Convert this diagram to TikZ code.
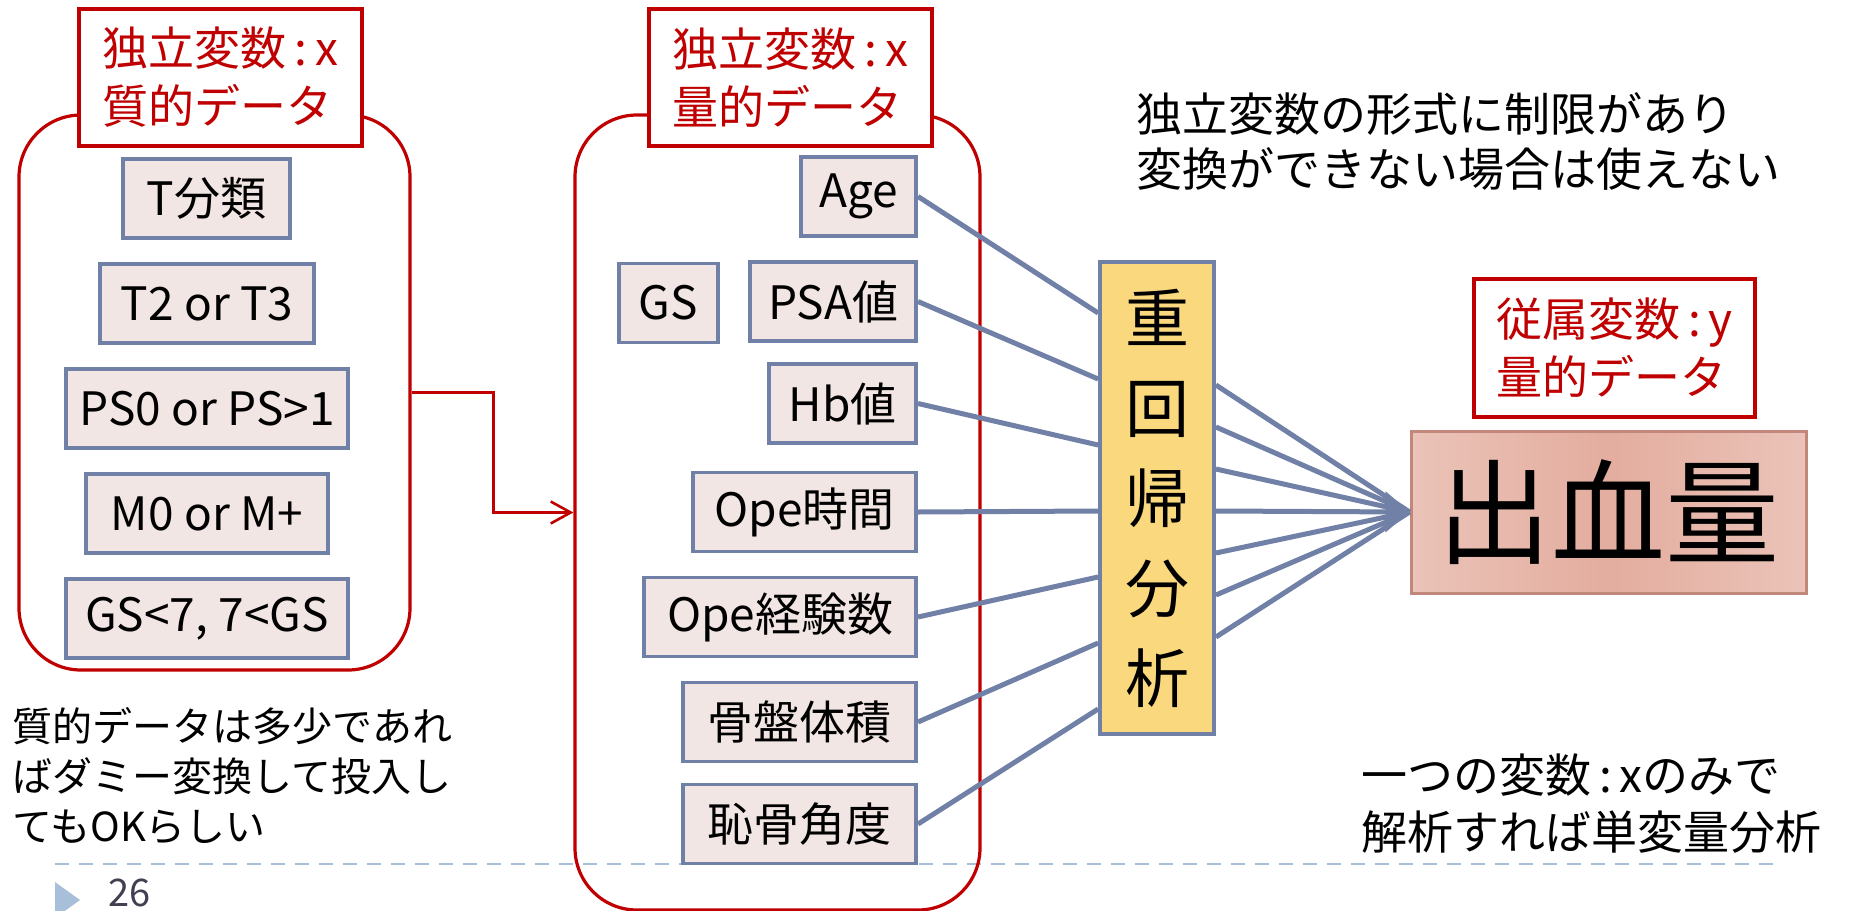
\documentclass[tikz,border=0pt]{standalone}
\usepackage{fontspec}
\setmainfont{Noto Sans CJK JP}
\usetikzlibrary{arrows.meta,calc}
\definecolor{rd}{HTML}{C00000}
\definecolor{bx}{HTML}{F2E6E4}
\definecolor{bb}{HTML}{7180A6}
\definecolor{yl}{HTML}{FAD97E}
\definecolor{dl}{HTML}{A7BFD8}
\definecolor{ob}{HTML}{C0877A}
\definecolor{oa}{HTML}{EBC3B8}
\definecolor{oc}{HTML}{E3AD9F}
\definecolor{pg}{HTML}{404050}
\begin{document}
\begin{tikzpicture}[x=0.5pt,y=-0.5pt,
 grp/.style={draw=rd,line width=1.6pt,rounded corners=31pt,inner sep=0pt},
 ttl/.style={draw=rd,line width=1.6pt,fill=white,text=rd,font=\fontsize{23}{29}\selectfont,align=left,minimum width=141.5pt,minimum height=68.5pt,inner sep=0pt},
 vb/.style={draw=bb,line width=1.9pt,fill=bx,font=\fontsize{23}{28}\selectfont,minimum height=39.5pt,inner sep=0pt},
 link/.style={draw=bb,line width=2.5pt},
 note/.style={font=\fontsize{23}{27.5}\selectfont,align=left,inner sep=0pt,anchor=north west}
]
\useasboundingbox (0,0) rectangle (1852,910);
\fill[white] (0,0) rectangle (1852,910);
% footer
\draw[dl,line width=1pt,dash pattern=on 7pt off 5pt] (55,864) -- (1783,864);
\fill[dl] (55,882) -- (80,900) -- (55,918) -- cycle;
\node[anchor=base west,text=pg,font=\fontsize{19}{19}\selectfont,inner sep=0pt] (pg) at (108,906) {26};
% groups
\node[grp,minimum width=195.5pt,minimum height=277.5pt] (g1) at (214.5,392.5) {};
\node[grp,minimum width=202.5pt,minimum height=397.5pt] (g2) at (777.5,512.5) {};
\draw[rd,line width=1.3pt,-{Straight Barb[length=10pt,width=11pt]}] (g1.east) -- ++(82,0) |- (g2.west);
% titles
\node[ttl] (t1) at (220.5,77.5) {独立変数\,:\,x\\質的データ};
\node[ttl] (t2) at (790.5,77.5) {独立変数\,:\,x\\量的データ};
\node[ttl,minimum width=140.5pt,minimum height=69pt] (t3) at (1614.5,348) {従属変数\,:\,y\\量的データ};
% left boxes
\node[vb,minimum width=83.5pt] (a1) at (206.5,198.5) {T分類};
\node[vb,minimum width=107pt] (a2) at (207,303.5) {T2 or T3};
\node[vb,minimum width=141pt] (a3) at (207,408.5) {PS0 or PS>1};
\node[vb,minimum width=121pt] (a4) at (207,513.5) {M0 or M+};
\node[vb,minimum width=141pt] (a5) at (207,618.5) {GS<7, 7<GS};
% middle boxes
\node[vb,anchor=east,minimum width=57.5pt] (b1) at (918,196.5) {Age};
\node[vb,minimum width=49.5pt] (gs) at (668.5,303) {GS};
\node[vb,anchor=east,minimum width=83pt] (b2) at (918,301.5) {PSA値};
\node[vb,anchor=east,minimum width=73.5pt] (b3) at (918,403.5) {Hb値};
\node[vb,anchor=east,minimum width=111.5pt] (b4) at (918,512) {Ope時間};
\node[vb,anchor=east,minimum width=136pt] (b5) at (918,617) {Ope経験数};
\node[vb,anchor=east,minimum width=116.5pt] (b6) at (918,722) {骨盤体積};
\node[vb,anchor=east,minimum width=116.5pt] (b7) at (918,824) {恥骨角度};
% regression
\node[draw=bb,line width=1.9pt,fill=yl,minimum width=57pt,minimum height=236pt,inner sep=0pt,font=\fontsize{32}{45}\selectfont,align=center] (reg) at (1157,498) {重\\回\\帰\\分\\析};
% outcome
\node[draw=ob,line width=1.5pt,left color=oa,right color=oa,middle color=oc,minimum width=197.5pt,minimum height=81pt,inner sep=0pt,font=\fontsize{57}{57}\selectfont] (out) at (1608.5,512) {出血量};
% links
\foreach \n/\yy in {b1/313,b2/379,b3/445,b4/511,b5/577,b6/643,b7/709}
  \draw[link] (\n.east) -- ($(reg.west)+(0,\yy-498)$);
\foreach \yy in {385,427,469,553,595,637}
  \draw[link] ($(reg.east)+(0,\yy-498)$) -- (out.west);
\draw[link,-{Triangle[length=12pt,width=20pt]}] ($(reg.east)+(0,13)$) -- (out.west);
% notes
\node[note,font=\fontsize{20}{25}\selectfont] (n1) at (12,707) {質的データは多少であれ\\ばダミー変換して投入し\\てもOKらしい};
\node[note] (n2) at (1136,92) {独立変数の形式に制限があり\\変換ができない場合は使えない};
\node[note,font=\fontsize{23}{28.5}\selectfont] (n3) at (1361,753) {一つの変数\,:\,xのみで\\解析すれば単変量分析};
\end{tikzpicture}
\end{document}
